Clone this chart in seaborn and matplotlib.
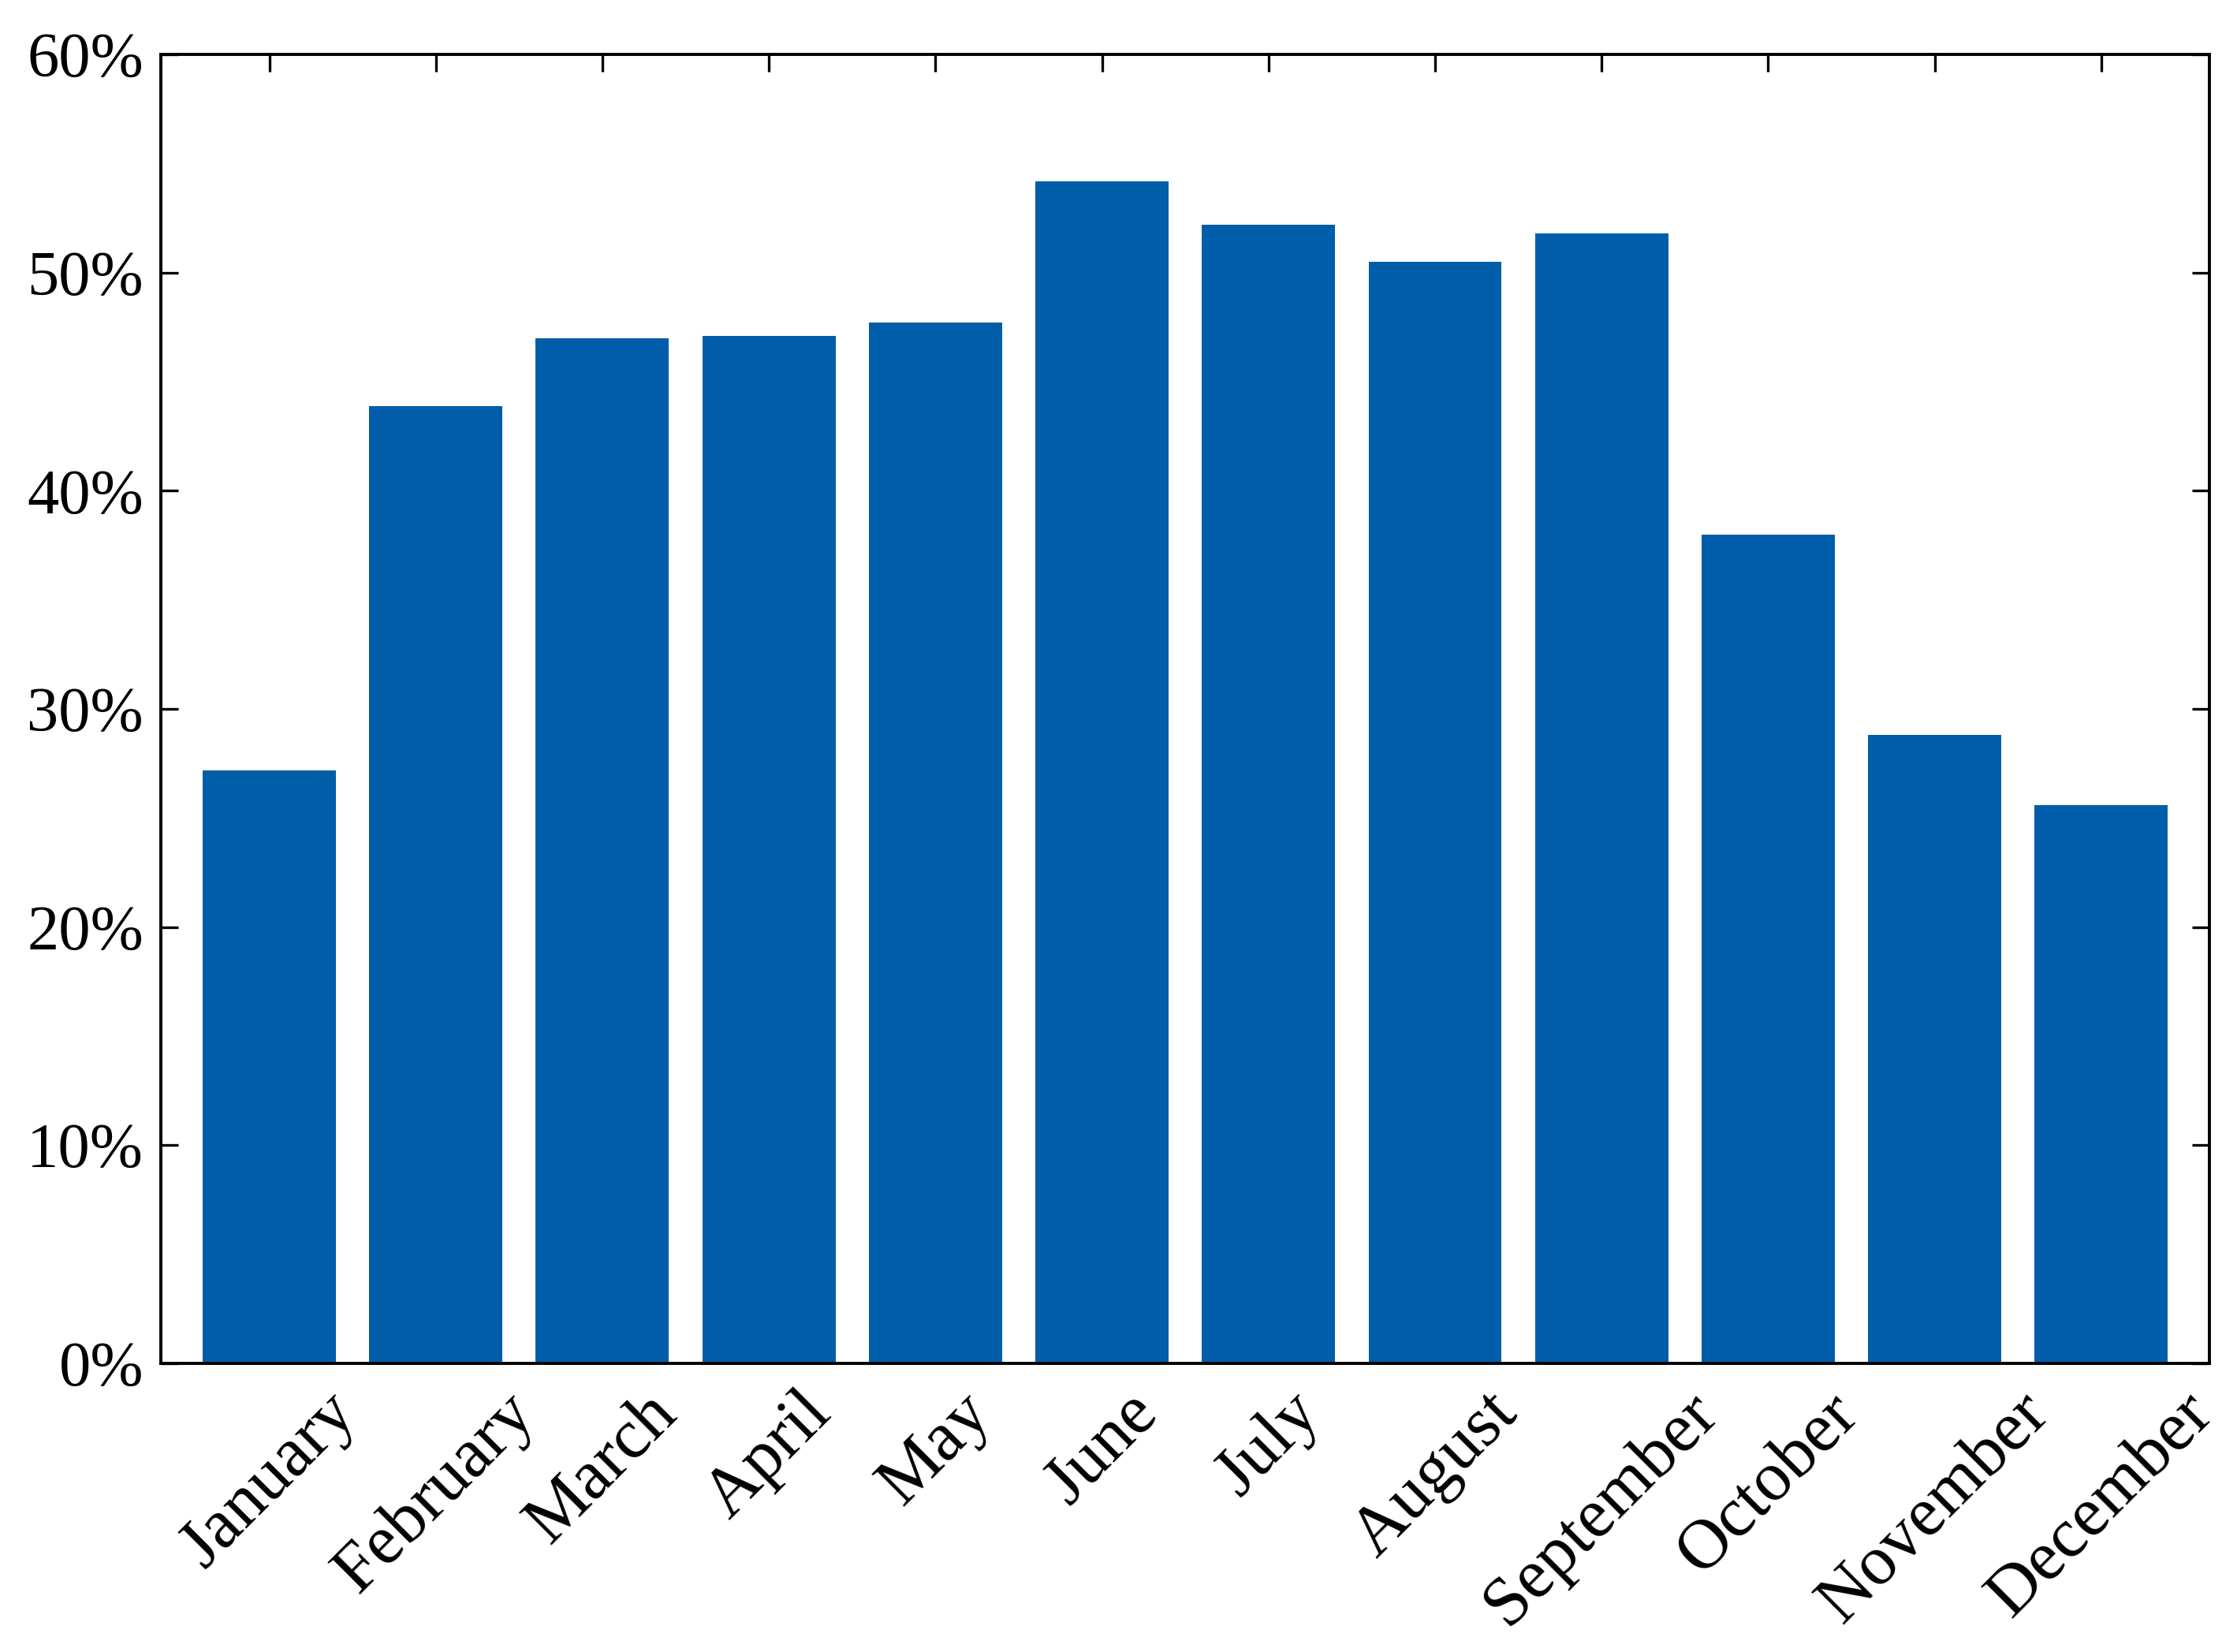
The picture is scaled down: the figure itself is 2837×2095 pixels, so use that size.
import pandas as pd
import matplotlib
matplotlib.use("Agg")
import matplotlib.pyplot as plt
from matplotlib.ticker import PercentFormatter, MultipleLocator
import seaborn as sns

# === DATA ===
months = ["January", "February", "March", "April", "May", "June",
          "July", "August", "September", "October", "November", "December"]
share_pct = [27.2, 43.9, 47.0, 47.1, 47.7, 54.2, 52.2, 50.5, 51.8, 38.0, 28.8, 25.6]

df = pd.DataFrame({"month": months, "share": share_pct})

# === STYLE ===
sns.set_style("ticks")
plt.rcParams["font.family"] = ["Liberation Serif", "DejaVu Serif"]
plt.rcParams["font.size"] = 29

fig = plt.figure(figsize=(14.185, 10.475), dpi=200)
ax = fig.add_axes([0.072, 0.1747, 0.9157, 0.7923])

sns.barplot(data=df, x="month", y="share", color="#005DA9", saturation=1,
            width=0.8, edgecolor="none", ax=ax)

ax.set_xlim(-0.65, len(months) - 0.35)
ax.set_ylim(0, 60)
ax.yaxis.set_major_locator(MultipleLocator(10))
ax.yaxis.set_major_formatter(PercentFormatter(decimals=0))
ax.set_xlabel("")
ax.set_ylabel("")

for side in ["top", "right", "bottom", "left"]:
    ax.spines[side].set_visible(True)
    ax.spines[side].set_linewidth(1.4)
    ax.spines[side].set_color("black")

ax.tick_params(axis="both", direction="in", length=8, width=1.2,
               top=True, right=True, colors="black")
ax.tick_params(axis="y", labelsize=29, pad=8)
ax.tick_params(axis="x", labelsize=32, pad=8)
plt.setp(ax.get_xticklabels(), rotation=45)

fig.savefig("out.png", dpi=200)
plt.close(fig)
